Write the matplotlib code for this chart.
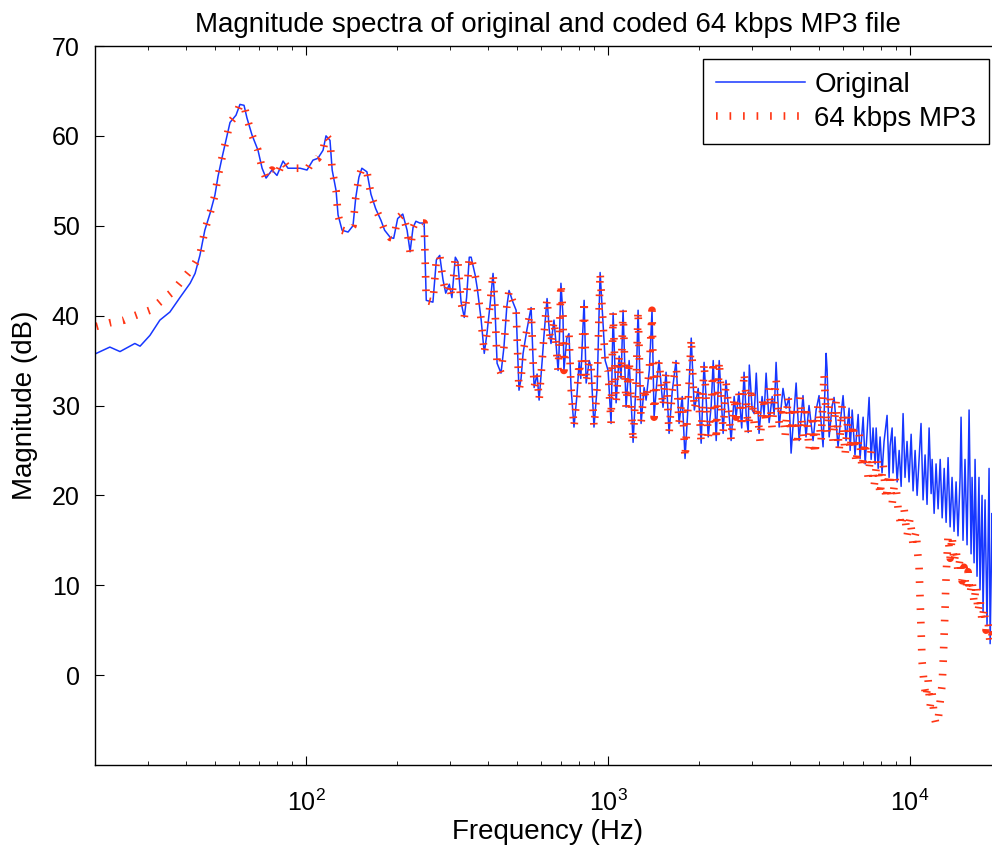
import numpy as np
import matplotlib
matplotlib.use("Agg")
import matplotlib.pyplot as plt

plt.rcParams['font.family'] = ['Liberation Sans', 'DejaVu Sans']
plt.rcParams['mathtext.fontset'] = 'custom'
plt.rcParams['mathtext.rm'] = 'Liberation Sans'
plt.rcParams['mathtext.it'] = 'Liberation Sans'

# ---------------- data ----------------
blue_freq_low = [20.2, 22.4, 24.2, 27.1, 28.2, 30.4, 32.8, 35.4, 38.2, 41.3,
                 42.9, 44.5, 46.2, 48.1, 49.9, 51.1, 52.7, 54.3, 56.0, 58.6,
                 60.4, 62.3, 63.7, 66.2, 69.3, 71.5, 73.7, 77.1, 80.1, 83.9,
                 87.1, 91.8, 95.5, 100.7, 105.4, 109.4, 113.8, 116.4, 120, 122,
                 125.7, 127.6, 131.6, 137.7, 143, 146, 149.6, 153, 159, 164,
                 170, 177, 182, 190, 195, 201, 209, 216, 221, 226,
                 231, 238]
blue_db_low = [35.8, 36.5, 36.0, 36.9, 36.6, 37.8, 39.5, 40.4, 42.0, 43.6,
               44.7, 46.7, 49.5, 51.4, 53.4, 55.5, 57.6, 59.5, 61.5, 62.3,
               63.5, 63.4, 62.0, 60.1, 58.4, 56.4, 55.3, 56.2, 55.6, 57.2,
               56.4, 56.4, 56.4, 56.2, 57.3, 57.5, 58.4, 60.0, 59.5, 56.2,
               53.9, 51.2, 49.5, 49.3, 50.0, 53.1, 55.4, 56.4, 56.0, 53.5,
               51.9, 50.6, 49.5, 48.7, 48.6, 50.8, 51.3, 49.5, 47.1, 49.8,
               50.5, 50.3]

blue_freq_mid = [246, 250, 263, 270, 277, 284, 290, 298, 304, 312,
                 318, 326, 334, 340, 347, 352, 363, 369, 380, 389,
                 397, 406, 416, 422, 429, 442, 452, 462, 470, 484,
                 496, 507, 515, 523, 539, 556, 569, 582, 591, 605,
                 614, 628, 638, 647, 662, 672, 683, 688, 698, 709,
                 714, 730, 742, 754, 771, 788, 802, 812, 833, 846,
                 866, 878, 898, 920, 941, 955, 978, 1000, 1023, 1039,
                 1063, 1088, 1104, 1121, 1147, 1174, 1210, 1240, 1257, 1286,
                 1316, 1336, 1370, 1398, 1420, 1453, 1475, 1520, 1556, 1592,
                 1630, 1679, 1718, 1760, 1798, 1840, 1885, 1930, 1988, 2033,
                 2079, 2146, 2195, 2229, 2280, 2333, 2404, 2457, 2515, 2555,
                 2615, 2654, 2710, 2770, 2820, 2865, 2911, 2935, 3000, 3047,
                 3095, 3162, 3235, 3285, 3336, 3414, 3494, 3547, 3600, 3685,
                 3795, 3884, 3974, 4036, 4194, 4292, 4420, 4523, 4628, 4772,
                 4885, 4995, 5150, 5272, 5310, 5395, 5520, 5601, 5774, 5910,
                 5999, 6138, 6280]
blue_db_mid = [50.3, 41.7, 41.5, 46.2, 46.7, 44.0, 42.5, 43.5, 42.0, 46.5,
               46.0, 41.5, 39.8, 42.0, 46.5, 46.5, 44.5, 43.0, 39.5, 35.8,
               38.0, 41.0, 44.7, 41.0, 34.7, 33.6, 36.5, 41.0, 42.8, 41.5,
               40.6, 31.7, 33.0, 35.8, 38.5, 40.9, 32.0, 33.5, 30.6, 35.0,
               38.0, 41.9, 38.5, 36.9, 39.5, 37.0, 33.9, 36.0, 43.6, 40.0,
               33.9, 37.5, 38.0, 32.0, 27.6, 31.0, 34.8, 33.0, 41.7, 32.5,
               35.0, 34.3, 27.6, 32.0, 44.8, 41.0, 35.0, 33.9, 28.0, 40.3,
               30.3, 35.5, 33.0, 40.6, 29.8, 35.0, 25.9, 33.0, 40.6, 28.0,
               32.0, 30.6, 34.0, 40.6, 28.7, 33.0, 35.0, 29.8, 33.7, 26.9,
               31.5, 35.0, 28.0, 31.0, 24.1, 30.0, 37.5, 29.5, 31.9, 25.8,
               34.8, 26.5, 30.0, 35.0, 26.1, 35.0, 26.9, 32.8, 29.0, 26.1,
               31.0, 28.7, 31.5, 27.5, 33.7, 29.0, 27.0, 34.5, 29.5, 29.1,
               33.6, 26.9, 31.0, 29.0, 33.6, 28.1, 31.0, 29.0, 34.8, 27.6,
               31.9, 29.7, 30.9, 24.7, 32.5, 26.1, 31.1, 26.5, 30.0, 26.1,
               29.5, 31.1, 25.4, 35.8, 34.0, 26.5, 30.0, 30.9, 25.4, 29.0,
               31.1, 26.1, 29.7]

blue_freq_high = [6330, 6430, 6570, 6730, 6830, 6990, 7100, 7205, 7316, 7430,
                  7540, 7660, 7720, 7840, 7955, 8075, 8200, 8390, 8520, 8586,
                  8720, 8780, 8910, 9060, 9200, 9340, 9480, 9620, 9770, 9920,
                  10080, 10230, 10390, 10550, 10710, 10870, 11040, 11210, 11380, 11560,
                  11740, 11830, 12010, 12190, 12380, 12580, 12770, 12970, 13160, 13360,
                  13570, 13770, 13980, 14200, 14410, 14640, 14750, 14970, 15200, 15440,
                  15680, 15920, 16040, 16290, 16410, 16660, 16910, 17040, 17310, 17440,
                  17710, 17980, 18260, 18410, 18690, 19100, 19900]
blue_db_high = [25.0, 29.5, 24.5, 29.0, 24.1, 28.7, 23.5, 27.0, 30.9, 24.0,
                27.5, 23.5, 27.5, 23.0, 26.5, 22.5, 26.0, 28.9, 22.0, 25.5,
                27.5, 22.5, 26.5, 21.5, 25.0, 21.0, 29.1, 22.0, 26.0, 21.5,
                26.8, 20.5, 25.0, 20.0, 24.0, 28.0, 19.5, 24.5, 19.0, 27.5,
                20.2, 24.0, 18.0, 23.5, 18.5, 24.0, 17.5, 23.0, 17.0, 24.2,
                16.5, 22.0, 16.0, 21.5, 15.5, 22.0, 28.7, 15.0, 24.0, 14.5,
                29.5, 13.5, 22.0, 12.5, 24.0, 11.0, 22.0, 9.5, 20.0, 7.0,
                19.5, 5.5, 23.0, 3.5, 18.0, 3.0, 15.0]

red_freq_low = [20.2, 22.4, 25.0, 27.1, 30.4, 33.0, 36.0, 39.0, 42.0]
red_db_low = [38.8, 39.2, 39.5, 40.0, 40.6, 41.6, 42.6, 44.0, 45.3]

red_freq_high = [2864, 2911, 2975, 3047, 3114, 3186, 3261, 3336, 3414, 3492,
                 3600, 3685, 3770, 3856, 3945, 4036, 4129, 4226, 4323, 4420,
                 4523, 4628, 4736, 4846, 4955, 5074, 5190, 5310, 5433, 5560,
                 5689, 5821, 5956, 6094, 6232, 6330, 6476, 6628, 6780, 6937,
                 7097, 7263, 7430, 7602, 7778, 7955, 8141, 8329, 8521, 8718,
                 8920, 9127, 9337, 9553, 9774, 10000, 10231, 10468, 10629, 10710,
                 10792, 10875, 10958, 11127, 11298, 11472, 11647, 11827, 12010, 12190,
                 12380, 12570, 12770, 12870, 12970, 13060, 13160, 13360, 13570, 13770,
                 13980, 14200, 14410, 14640, 14860, 15090, 15320, 15560, 15800, 16040,
                 16290, 16540, 16790, 17040, 17310, 17570, 17840, 18120, 18410, 18690,
                 19260, 20000]
red_db_high = [31, 27, 32, 28, 30, 26, 31, 28, 32, 27.5,
               33, 28, 30, 26.5, 31, 27, 30, 25.5, 31, 26.5,
               30, 25, 29, 24.5, 30, 26, 33.5, 27, 31, 26,
               30.5, 25, 30, 24.5, 29, 25, 28, 23.5, 27, 23,
               26, 22, 25, 21, 24, 20, 23.5, 19.5, 22.5, 19,
               22, 18.5, 16.5, 18.5, 15.5, 17.5, 14.5, 16, 13, 12,
               8.5, 5, 1.5, -1, -2.5, -0.5, -3.5, -2, -4.5, -5.5,
               -5.0, -3, -1, 1.5, 4.5, 7.5, 11, 15.5, 13, 15.5,
               12.5, 14, 11.5, 13, 10.5, 12, 9.5, 11.5, 9, 10.5,
               8, 10, 7, 8.5, 6, 7.5, 5, 6, 3.5, 4.5,
               3, 3.5]

y_ticks = [0, 10, 20, 30, 40, 50, 60, 70]
labels = ["Original", "64 kbps MP3"]

# ---------------- assemble series ----------------
blue_freq = np.array(blue_freq_low + blue_freq_mid + blue_freq_high, dtype=float)
blue_db = np.array(blue_db_low + blue_db_mid + blue_db_high, dtype=float)
shared = (blue_freq >= 44) & (blue_freq < 2850)   # where the MP3 curve follows the original
red_freq = np.concatenate([red_freq_low, blue_freq[shared], red_freq_high])
red_db = np.concatenate([red_db_low, blue_db[shared], red_db_high])

# ---------------- plot ----------------
W, H = 992, 846
fig = plt.figure(figsize=(W / 100, H / 100), dpi=100)
ax = fig.add_axes([95 / W, 1 - 765 / H, (1001 - 95) / W, (765 - 46) / H])

ax.plot(blue_freq, blue_db, color='#1737ff', lw=1.1, label=labels[0])
ax.plot(red_freq, red_db, color='#ff3514', lw=5.5,
        linestyle=(0, (0.22, 1.55)), dash_capstyle='butt', label=labels[1])

ax.set_xscale('log')
ax.set_xlim(20, 20000)
ax.set_ylim(-10, 70)
ax.set_yticks(y_ticks)

ax.tick_params(which='both', direction='in', top=True, right=True, labelsize=18)
ax.tick_params(which='major', length=6.5, width=0.8)
ax.tick_params(which='minor', length=3.2, width=0.6)
ax.tick_params(axis='y', pad=11)
ax.tick_params(axis='x', pad=18)
for s in ax.spines.values():
    s.set_linewidth(1.0)

ax.set_title("Magnitude spectra of original and coded 64 kbps MP3 file", fontsize=20, pad=10)
ax.set_xlabel("Frequency (Hz)", fontsize=20, labelpad=2)
ax.set_ylabel("Magnitude (dB)", fontsize=20, labelpad=10)

leg = ax.legend(loc='upper right', bbox_to_anchor=(989 / W, 1 - 59 / H),
                bbox_transform=fig.transFigure, borderaxespad=0,
                fontsize=20, handlelength=3.2, handletextpad=0.35,
                fancybox=False, framealpha=1, edgecolor='black',
                borderpad=0.45, labelspacing=0.3)
leg.get_frame().set_linewidth(1.0)

fig.savefig("out.png", dpi=100)
